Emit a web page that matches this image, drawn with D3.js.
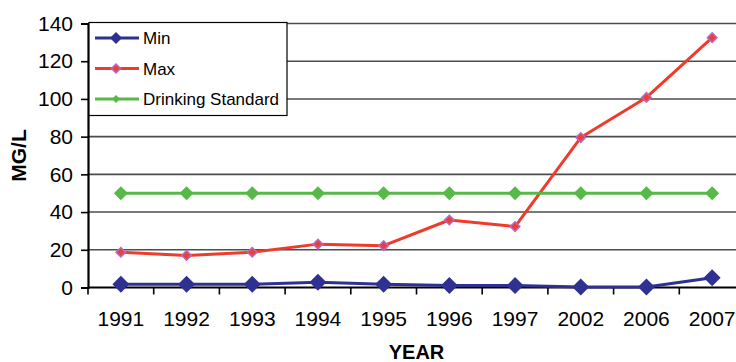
<!DOCTYPE html>
<html>
<head>
<meta charset="utf-8">
<script src="https://cdn.jsdelivr.net/npm/d3@7"></script>
<style>
  html, body { margin: 0; padding: 0; background: #fff; }
  svg { display: block; font-family: "Liberation Sans", Arial, sans-serif; }
</style>
</head>
<body>
<svg id="chart" width="736" height="362"></svg>
<script>
// Nitrate concentration by sampling year
const years = ["1991", "1992", "1993", "1994", "1995", "1996", "1997", "2002", "2006", "2007"];
const minValues = [1.7, 1.7, 1.7, 2.8, 1.7, 1, 1, 0.3, 0.3, 5.2];
const maxValues = [18.7, 17, 18.7, 23, 22.2, 35.8, 32.3, 79.5, 100.8, 132.5];
const standardValues = [50, 50, 50, 50, 50, 50, 50, 50, 50, 50];
const yTicks = [0, 20, 40, 60, 80, 100, 120, 140];
const seriesNames = ["Min", "Max", "Drinking Standard"];

const svg = d3.select("#chart");
const W = 736, H = 362;
const plotLeft = 88, plotRight = 745, plotTop = 23.5, plotBottom = 287.5;

const x = d3.scalePoint().domain(years).range([plotLeft, plotRight]).padding(0.5);
const y = d3.scaleLinear().domain([0, 140]).range([plotBottom, plotTop]);
const step = x.step();

const series = [
  { name: seriesNames[0], values: minValues, color: "#2e3192", size: 8.5, fill: "#2e3192", stroke: "#2e3192" },
  { name: seriesNames[1], values: maxValues, color: "#ee3b2b", size: 4.8, fill: "#e8413a", stroke: "#b86ac2" },
  { name: seriesNames[2], values: standardValues, color: "#57b947", size: 7, fill: "#57b947", stroke: "#57b947" }
];

// horizontal gridlines
svg.append("g")
  .selectAll("line")
  .data(yTicks.filter(d => d > 0))
  .join("line")
  .attr("x1", plotLeft).attr("x2", W)
  .attr("y1", d => y(d)).attr("y2", d => y(d))
  .attr("stroke", "#4d4d4d").attr("stroke-width", 1.6);

// y axis
const yAxis = svg.append("g")
  .attr("transform", `translate(${plotLeft},0)`)
  .call(d3.axisLeft(y).tickValues(yTicks).tickSize(7).tickPadding(8));
yAxis.select(".domain").attr("stroke", "#000").attr("stroke-width", 2.2);
yAxis.selectAll(".tick line").attr("stroke", "#000").attr("stroke-width", 1.6);
yAxis.selectAll(".tick text")
  .attr("font-family", "Liberation Sans, Arial, sans-serif")
  .attr("font-size", 21).attr("fill", "#000");

// x axis with tick marks between categories
const xg = svg.append("g").attr("transform", `translate(0,${plotBottom})`);
xg.append("line")
  .attr("x1", plotLeft).attr("x2", W)
  .attr("y1", 0).attr("y2", 0)
  .attr("stroke", "#000").attr("stroke-width", 2.2);
xg.selectAll("line.tk")
  .data(d3.range(0, years.length + 1))
  .join("line").attr("class", "tk")
  .attr("x1", i => plotLeft + i * step).attr("x2", i => plotLeft + i * step)
  .attr("y1", 0).attr("y2", 7)
  .attr("stroke", "#000").attr("stroke-width", 1.6);
xg.selectAll("text")
  .data(years)
  .join("text")
  .attr("x", d => x(d)).attr("y", 38.5)
  .attr("text-anchor", "middle")
  .attr("font-size", 21).attr("fill", "#000")
  .text(d => d);

// axis titles
svg.append("text")
  .attr("x", (plotLeft + plotRight) / 2).attr("y", 359)
  .attr("text-anchor", "middle")
  .attr("font-size", 20).attr("font-weight", "bold")
  .text("YEAR");
svg.append("text")
  .attr("transform", "translate(26,155.5) rotate(-90)")
  .attr("text-anchor", "middle")
  .attr("font-size", 21).attr("font-weight", "bold")
  .text("MG/L");

// series lines and markers
const line = d3.line().x((d, i) => x(years[i])).y(d => y(d));
const diamond = (cx, cy, r) => `M${cx},${cy - r}L${cx + r},${cy}L${cx},${cy + r}L${cx - r},${cy}Z`;

series.forEach(s => {
  const g = svg.append("g");
  g.append("path")
    .datum(s.values)
    .attr("d", line)
    .attr("fill", "none")
    .attr("stroke", s.color)
    .attr("stroke-width", 3)
    .attr("stroke-linejoin", "round");
  g.selectAll("path.mk")
    .data(s.values)
    .join("path").attr("class", "mk")
    .attr("d", (d, i) => diamond(x(years[i]), y(d), s.size))
    .attr("fill", s.fill)
    .attr("stroke", s.stroke)
    .attr("stroke-width", s.name === "Max" ? 1.5 : 0);
});

// legend
const lg = svg.append("g").attr("transform", `translate(${plotLeft + 1},${plotTop - 1})`);
lg.append("rect")
  .attr("x", 0).attr("y", 0)
  .attr("width", 198).attr("height", 93)
  .attr("fill", "#fff").attr("stroke", "#000").attr("stroke-width", 1.2);
series.forEach((s, i) => {
  const cy = 15.5 + i * 30.5;
  lg.append("line")
    .attr("x1", 6).attr("x2", 50)
    .attr("y1", cy).attr("y2", cy)
    .attr("stroke", s.color).attr("stroke-width", 3);
  lg.append("path")
    .attr("d", diamond(27, cy, s.name === "Min" ? 6 : (s.name === "Max" ? 4.5 : 4)))
    .attr("fill", s.fill)
    .attr("stroke", s.stroke)
    .attr("stroke-width", s.name === "Max" ? 1.5 : 0);
  lg.append("text")
    .attr("x", 54).attr("y", cy + 6)
    .attr("font-size", 17).attr("fill", "#000")
    .text(s.name);
});
</script>
</body>
</html>
